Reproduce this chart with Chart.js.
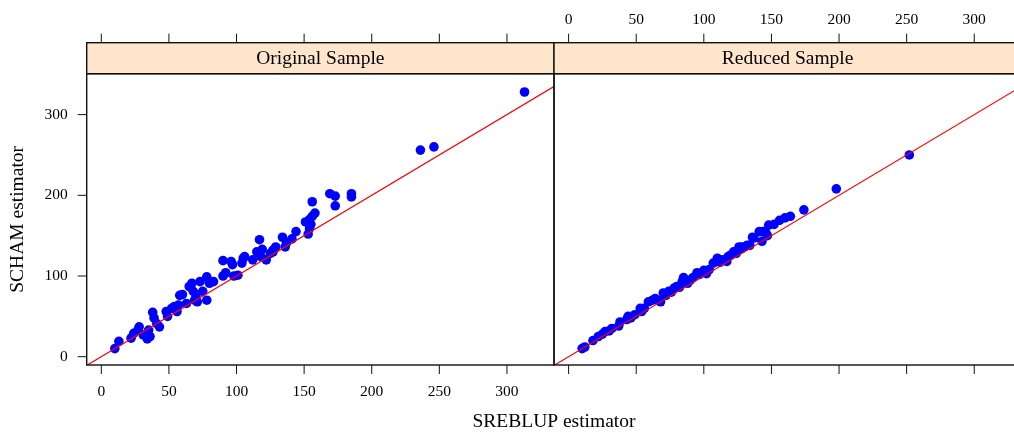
<!DOCTYPE html>
<html>
<head>
<meta charset="utf-8">
<script src="https://cdn.jsdelivr.net/npm/chart.js@4/dist/chart.umd.min.js"></script>
<style>
  html, body { margin: 0; padding: 0; background: #fff; width: 1014px; height: 435px; overflow: hidden; }
  canvas { position: absolute; left: 0; top: 0; }
</style>
</head>
<body>
<canvas id="origChart" width="1030" height="435"></canvas>
<canvas id="redChart" width="1030" height="435"></canvas>
<script>
// SREBLUP (x) vs SCHAM (y) estimates
const origX = [10, 13, 22, 24, 27, 28, 31, 34, 35, 36, 38, 39, 41, 43, 48, 49, 52, 54, 56, 57,
  60, 63, 65, 67, 68, 70, 71, 73, 75, 78, 78, 80, 83, 90, 90, 96, 97, 98, 101, 104,
  105, 106, 112, 115, 117, 118, 122, 127, 129, 119, 125, 127, 136, 137, 134, 141, 144, 153, 154, 155,
  151, 154, 156, 158, 156, 169, 173, 173, 185, 185, 236, 246, 313, 58, 69, 92];
const origY = [10, 19, 23, 29, 33, 37, 27, 22, 33, 25, 55, 48, 41, 37, 56, 50, 60, 62, 56, 64,
  77, 66, 87, 91, 81, 74, 68, 93, 81, 70, 99, 91, 93, 119, 100, 118, 114, 100, 101, 116,
  122, 124, 120, 130, 145, 124, 120, 130, 136, 133, 128, 132, 136, 141, 148, 146, 155, 152, 159, 164,
  167, 170, 174, 178, 192, 202, 199, 187, 202, 198, 256, 260, 328, 76, 70, 104];

const redX = [10, 12, 18, 22, 25, 27, 30, 32, 37, 38, 43, 44, 46, 49, 53, 54, 56, 59, 62, 64,
  66, 68, 70, 72, 74, 76, 78, 80, 82, 84, 85, 88, 90, 92, 95, 97, 100, 102, 104, 107,
  110, 112, 114, 117, 118, 120, 122, 124, 126, 128, 128, 130, 132, 134, 136, 137, 141, 143, 144, 146,
  147, 148, 152, 156, 160, 164, 174, 198, 252];
const redY = [10, 12, 20, 25, 28, 31, 32, 35, 38, 43, 46, 50, 48, 52, 60, 56, 60, 68, 70, 72,
  70, 68, 79, 76, 81, 80, 85, 87, 86, 93, 98, 91, 95, 98, 104, 102, 107, 103, 108, 116,
  122, 117, 120, 118, 124, 126, 130, 128, 136, 136, 134, 136, 138, 138, 148, 147, 155, 143, 155, 153,
  150, 163, 164, 169, 172, 174, 182, 208, 250];

// y = x reference line
const refLine = [-20, 360];

const xTicks = [0, 50, 100, 150, 200, 250, 300];
const yTicks = [0, 100, 200, 300];
const xLimits = [-10.8, 334.8];
const yLimits = [-10.3, 350.7];

const serif = '"Liberation Serif", "Times New Roman", serif';

function toPoints(xs, ys){
  return xs.map((v, i) => ({x: v, y: ys[i]}));
}

// strip, panel box, ticks and titles in the lattice style
const panelDeco = {
  id: 'panelDeco',
  afterDraw(chart, args, opts){
    const ctx = chart.ctx;
    const a = chart.chartArea;
    const x = chart.scales.x, y = chart.scales.y;
    const stripTop = a.top - 31;
    ctx.save();
    ctx.fillStyle = '#ffe5cc';
    ctx.fillRect(a.left, stripTop, a.right - a.left, 31);
    ctx.strokeStyle = '#111';
    ctx.lineWidth = 1.4;
    ctx.strokeRect(a.left, stripTop, a.right - a.left, 31);
    ctx.strokeRect(a.left, a.top, a.right - a.left, a.bottom - a.top);

    ctx.fillStyle = '#000';
    ctx.textAlign = 'center';
    ctx.textBaseline = 'middle';
    ctx.font = '19.5px ' + serif;
    ctx.fillText(opts.strip, (a.left + a.right) / 2, stripTop + 16);

    ctx.font = '15.5px ' + serif;
    ctx.lineWidth = 1;
    xTicks.forEach(v => {
      const px = x.getPixelForValue(v);
      ctx.beginPath();
      ctx.moveTo(px, a.bottom); ctx.lineTo(px, a.bottom + 9);
      ctx.moveTo(px, stripTop - 9); ctx.lineTo(px, stripTop);
      ctx.stroke();
      if(opts.bottomLabels) ctx.fillText(String(v), px, a.bottom + 27);
      if(opts.topLabels) ctx.fillText(String(v), px, stripTop - 23);
    });
    yTicks.forEach(v => {
      const py = y.getPixelForValue(v);
      ctx.beginPath();
      if(opts.leftTicks){ ctx.moveTo(a.left - 9, py); ctx.lineTo(a.left, py); }
      else { ctx.moveTo(a.right, py); ctx.lineTo(a.right + 9, py); }
      ctx.stroke();
      if(opts.leftTicks){
        ctx.textAlign = 'right';
        ctx.fillText(String(v), a.left - 19, py);
        ctx.textAlign = 'center';
      }
    });

    if(opts.titles){
      ctx.font = '19.5px ' + serif;
      ctx.fillText('SREBLUP estimator', 554, 422);
      ctx.translate(18, (a.top + a.bottom) / 2);
      ctx.rotate(-Math.PI / 2);
      ctx.fillText('SCHAM estimator', 0, 0);
    }
    ctx.restore();
  }
};

function makePanel(id, xs, ys, padding, deco){
  return new Chart(document.getElementById(id), {
    type: 'scatter',
    data: {
      datasets: [
        {
          type: 'line',
          data: toPoints(refLine, refLine),
          borderColor: '#ff0000',
          borderWidth: 1.2,
          pointRadius: 0,
          fill: false,
          order: 0
        },
        {
          data: toPoints(xs, ys),
          backgroundColor: '#0000ff',
          borderWidth: 0,
          pointRadius: 4.8,
          order: 1
        }
      ]
    },
    options: {
      responsive: false,
      animation: false,
      layout: { padding: padding },
      plugins: {
        legend: { display: false },
        tooltip: { enabled: false },
        panelDeco: deco
      },
      scales: {
        x: { type: 'linear', min: xLimits[0], max: xLimits[1], display: false },
        y: { type: 'linear', min: yLimits[0], max: yLimits[1], display: false }
      }
    },
    plugins: [panelDeco]
  });
}

makePanel('origChart', origX, origY,
  { left: 86.7, top: 73.7, right: 1030 - 554, bottom: 435 - 365 },
  { strip: 'Original Sample', bottomLabels: true, topLabels: false, leftTicks: true, titles: true });

makePanel('redChart', redX, redY,
  { left: 554, top: 73.7, right: 1030 - 1021.3, bottom: 435 - 365 },
  { strip: 'Reduced Sample', bottomLabels: false, topLabels: true, leftTicks: false, titles: false });
</script>
</body>
</html>
